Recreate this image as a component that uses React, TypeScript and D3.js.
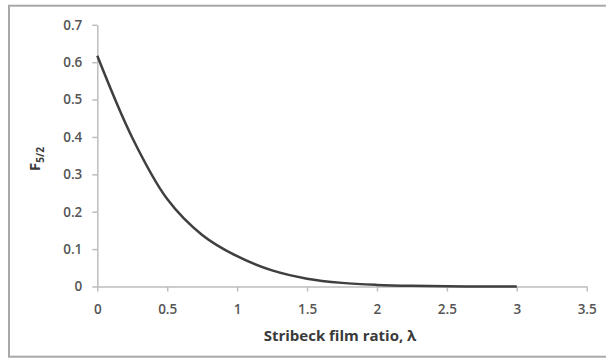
import React, { useEffect, useRef } from 'react';
import * as d3 from 'd3';

// Stribeck film ratio (lambda) and F5/2 values
const lambdaValues = [0, 0.25, 0.5, 0.75, 1.0, 1.25, 1.5, 1.75, 2.0, 2.25, 2.5, 2.75, 3.0];
const f52Values = [0.617, 0.398, 0.234, 0.138, 0.081, 0.043, 0.021, 0.0097, 0.0043, 0.0017, 0.0006, 0.0002, 0.0001];
const xTicks = [0, 0.5, 1, 1.5, 2, 2.5, 3, 3.5];
const yTicks = [0, 0.1, 0.2, 0.3, 0.4, 0.5, 0.6, 0.7];

const App = () => {
  const chartRef = useRef<SVGSVGElement>(null);

  useEffect(() => {
    const width = 606;
    const height = 358;
    const margin = { top: 24.8, right: 19.3, bottom: 71.5, left: 97.3 };
    const font = '"Open Sans", Lato, sans-serif';

    const svg = d3.select(chartRef.current);
    svg.selectAll('*').remove();

    const chart = svg.attr('width', width).attr('height', height);

    // outer frame
    chart
      .append('rect')
      .attr('x', 9)
      .attr('y', 5.7)
      .attr('width', 610)
      .attr('height', 351)
      .attr('fill', 'none')
      .attr('stroke', '#a8a8a8')
      .attr('stroke-width', 2);

    const x = d3
      .scaleLinear()
      .domain([0, 3.5])
      .range([margin.left, width - margin.right]);

    const y = d3
      .scaleLinear()
      .domain([0, 0.7])
      .range([height - margin.bottom, margin.top]);

    const xAxis = chart
      .append('g')
      .attr('transform', `translate(0,${height - margin.bottom})`)
      .call(
        d3
          .axisBottom(x)
          .tickValues(xTicks)
          .tickFormat(d => String(d))
          .tickSize(5)
          .tickSizeOuter(0)
          .tickPadding(13)
      );

    const yAxis = chart
      .append('g')
      .attr('transform', `translate(${margin.left},0)`)
      .call(
        d3
          .axisLeft(y)
          .tickValues(yTicks)
          .tickFormat(d => String(d))
          .tickSize(5)
          .tickSizeOuter(0)
          .tickPadding(10)
      );

    [xAxis, yAxis].forEach(g => {
      g.select('.domain').attr('stroke', '#bdbdbd').attr('stroke-width', 1.5);
      g.selectAll('.tick line').attr('stroke', '#bdbdbd').attr('stroke-width', 1.5);
      g.selectAll('.tick text')
        .attr('fill', '#555555')
        .style('font-family', font)
        .style('font-size', '13.5px')
        .style('font-weight', 600);
    });

    const data = lambdaValues.map((l, i) => ({ l, f: f52Values[i] }));

    const line = d3
      .line<{ l: number; f: number }>()
      .x(d => x(d.l))
      .y(d => y(d.f))
      .curve(d3.curveCatmullRom.alpha(0.5));

    chart
      .append('path')
      .datum(data)
      .attr('d', line)
      .attr('fill', 'none')
      .attr('stroke', '#3f3f3f')
      .attr('stroke-width', 2.5);

    // axis titles
    chart
      .append('text')
      .attr('x', (x(0) + x(3.5)) / 2 - 2)
      .attr('y', 341)
      .attr('text-anchor', 'middle')
      .attr('fill', '#3a3a3a')
      .style('font-family', font)
      .style('font-size', '15px')
      .style('font-weight', 'bold')
      .text('Stribeck film ratio, λ');

    const yTitle = chart
      .append('text')
      .attr('transform', 'translate(40,159) rotate(-90)')
      .attr('text-anchor', 'middle')
      .attr('fill', '#3a3a3a')
      .style('font-family', font)
      .style('font-size', '15px')
      .style('font-weight', 'bold');
    yTitle.append('tspan').text('F');
    yTitle
      .append('tspan')
      .attr('dy', 4)
      .style('font-size', '10px')
      .text('5/2');
  }, []);

  return (
    <div>
      <svg
        ref={chartRef}
        style={{ position: 'absolute', left: 0, top: 0, display: 'block' }}
      ></svg>
    </div>
  );
};

export default App;
